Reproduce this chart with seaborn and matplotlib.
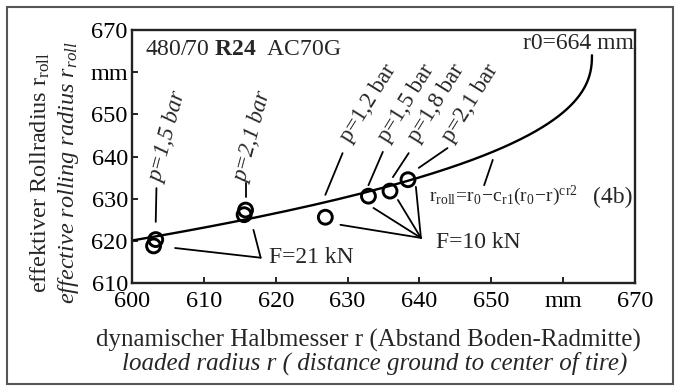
import numpy as np
import pandas as pd
import matplotlib
matplotlib.use("Agg")
import matplotlib.pyplot as plt
from matplotlib.patches import Rectangle
import seaborn as sns

# ---------------- data ----------------
# measured points (loaded radius r, rolling radius r_roll), mm
meas_r = [603.0, 603.3, 615.6, 615.8, 626.9, 632.9, 635.9, 638.4]
meas_rroll = [618.8, 620.3, 626.2, 627.3, 625.6, 630.6, 631.8, 634.5]

# fit parameters of equation (4b): r_roll = r0 - c_r1 (r0 - r)^c_r2
R0 = 664.0
C_R1 = 7.5
C_R2 = 0.425
R_START = 600.0

x_ticks = [600, 610, 620, 630, 640, 650, 660, 670]
x_ticklabels = ["600", "610", "620", "630", "640", "650", "mm", "670"]
y_ticks = [610, 620, 630, 640, 650, 660, 670]
y_ticklabels = ["610", "620", "630", "640", "650", "mm", "670"]

# ---------------- style ----------------
sns.set_theme(style="ticks")
plt.rcParams["font.family"] = ["Liberation Serif", "DejaVu Serif"]
plt.rcParams["mathtext.fontset"] = "custom"
plt.rcParams["mathtext.rm"] = "Liberation Serif"
plt.rcParams["mathtext.it"] = "Liberation Serif:italic"
plt.rcParams["mathtext.bf"] = "Liberation Serif:bold"

fig = plt.figure(figsize=(6.78, 3.86), dpi=100)
ax = fig.add_axes([0.1947, 0.2668, 0.742, 0.6555])

# fit curve
dist = np.geomspace(R0 - R_START, 1e-5, 500)
curve = pd.DataFrame({"r": R0 - dist, "rroll": R0 - C_R1 * dist ** C_R2})
curve.loc[len(curve)] = [R0, R0]
sns.lineplot(data=curve, x="r", y="rroll", ax=ax, color="black", lw=1.7,
             sort=False, estimator=None)

pts = pd.DataFrame({"r": meas_r, "rroll": meas_rroll})
sns.scatterplot(data=pts, x="r", y="rroll", ax=ax, marker="o", s=100,
                facecolors="none", edgecolor="black", linewidth=2.1, zorder=5)

ax.set_xlim(600, 670)
ax.set_ylim(610, 670)
ax.set_xticks(x_ticks)
ax.set_xticklabels(x_ticklabels)
ax.set_yticks(y_ticks)
ax.set_yticklabels(y_ticklabels)
ax.tick_params(direction="in", length=4, width=1.2, labelsize=17.5,
               colors="black")
ax.tick_params(axis="x", pad=6)
ax.tick_params(axis="y", pad=3)
ax.set_xlabel("")
ax.set_ylabel("")
for s in ax.spines.values():
    s.set_visible(True)
    s.set_linewidth(1.7)
    s.set_color("#222222")

# ---------------- annotations ----------------
fs = 17
ax.text(601.8, 665.3, r"480/70 $\mathbf{R24}$  AC70G", fontsize=fs,
        ha="left", va="center")
ax.text(669.9, 666.9, "r0=664 mm", fontsize=fs, ha="right", va="center")

# pressure labels
ax.text(605.0, 644.6, "p=1,5 bar", fontsize=16.5, rotation=75, style="italic",
        ha="center", va="center", rotation_mode="anchor")
ax.text(616.9, 644.6, "p=2,1 bar", fontsize=16.5, rotation=75, style="italic",
        ha="center", va="center", rotation_mode="anchor")
for xc, lab in [(632.9, "p=1,2 bar"), (638.1, "p=1,5 bar"),
                (642.4, "p=1,8 bar"), (647.1, "p=2,1 bar")]:
    ax.text(xc, 652.6, lab, fontsize=16.5, rotation=58, ha="center",
            va="center", rotation_mode="anchor")

leader = dict(color="black", lw=1.3)
segs = [
    ((603.4, 632.5), (603.3, 624.5)),
    ((615.8, 633.7), (615.8, 630.4)),
    ((629.3, 640.8), (626.9, 630.9)),
    ((634.9, 641.1), (632.9, 633.2)),
    ((638.5, 640.8), (636.3, 635.1)),
    ((643.9, 642.0), (639.9, 637.3)),
    # F=10 kN
    ((640.2, 620.7), (629.0, 623.8)),
    ((640.2, 620.7), (633.6, 627.8)),
    ((640.2, 620.7), (637.0, 629.7)),
    ((640.2, 620.7), (639.5, 632.8)),
    # F=21 kN
    ((617.9, 616.0), (606.0, 618.3)),
    ((617.9, 616.0), (616.9, 622.6)),
    # formula
    ((649.0, 633.2), (650.2, 639.2)),
]
for (x0, y0), (x1, y1) in segs:
    ax.plot([x0, x1], [y0, y1], **leader)

ax.text(642.3, 619.5, "F=10 kN", fontsize=fs, ha="left", va="center")
ax.text(619.0, 616.0, "F=21 kN", fontsize=fs, ha="left", va="center")
ax.text(641.3, 630.6,
        r"$\mathrm{r_{roll}\!=\!r_0\!-\!c_{r1}(r_0\!-\!r)^{cr2}}$",
        fontsize=14, ha="left", va="center")
ax.text(669.7, 630.4, "(4b)", fontsize=fs, ha="right", va="center")

# axis titles
fig.text(0.060, 0.552, r"effektiver Rollradius r$_{\mathrm{roll}}$",
         rotation=90, ha="center", va="center", fontsize=17.5)
fig.text(0.101, 0.552, r"effective rolling radius $r_{roll}$",
         rotation=90, ha="center", va="center", fontsize=17.5, style="italic")
fig.text(0.544, 0.119, "dynamischer Halbmesser r (Abstand Boden-Radmitte)",
         ha="center", va="center", fontsize=18)
fig.text(0.553, 0.060, "loaded radius r ( distance ground to center of tire)",
         ha="center", va="center", fontsize=18, style="italic")

# outer frame
fig.patches.append(Rectangle((0.0103, 0.0052), 0.982, 0.977,
                             transform=fig.transFigure, fill=False,
                             edgecolor="#555555", lw=1.5))

fig.savefig("out.png", dpi=100)
